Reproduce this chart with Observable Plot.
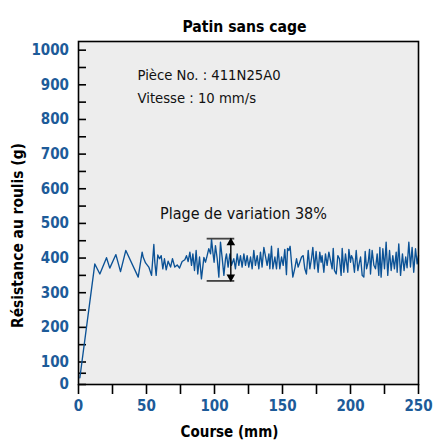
<!DOCTYPE html>
<html>
<head>
<meta charset="utf-8">
<script src="https://cdn.jsdelivr.net/npm/d3@7"></script>
<script src="https://cdn.jsdelivr.net/npm/@observablehq/plot@0.6"></script>
<style>
  body { margin: 0; background: #fff; }
  svg { display: block; }
</style>
</head>
<body>
<div id="chart"></div>
<script>
// ---- Data ----
const courseMm = [1,12,15.7,20.6,23,27.5,30.9,34.8,43.9,46.8,
  47.6,49.3,51.7,53.7,55.4,56.1,57.1,58.3,59.6,60.8,62,63.2,64.5,65.9,67.7,69.1,70.8,72.6,74.3,76.2,78.2,79.4,80.6,81.9,83.1,84.1,85.3,86.5,87.7,89,
  90.4,92.2,93.4,94.6,95.8,97.1,97.8,98.8,99.7,100.7,102,103.2,104.4,105.6,106.9,108.1,108.8,110,111.3,112.5,114.2,115.4,116.7,117.9,119.1,120.3,121.6,122.8,124,125.2,126.5,127.7,128.9,130.1,131.4,132.6,133.8,135,136.3,
  138.7,140,140.7,141.9,142.9,144.4,145.6,146.8,148,149.3,150.5,151.7,152.9,153.7,154.7,155.6,156.6,157.6,159.1,160.3,161.5,162.7,164,165.2,166.4,167.6,168.9,170.1,171.3,172.3,173.5,174.7,176.2,177.4,178.4,179.1,180.4,181.6,182.8,184.1,
  186.5,187.3,188.2,189.5,190.7,191.9,193.1,193.9,195.1,196.3,197.1,198,198.8,200,200.7,201.7,202.9,204.2,205.4,206.6,207.4,208.6,209.8,210.8,211.8,213,214,214.7,215.9,217.2,218.4,219.6,220.8,221.6,222.5,223.8,225,226.2,227.4,228.7,229.9,231.1,232.3,233.6,234.3,235.5,236.8,
  238.2,239.4,240.6,241.6,242.9,244.1,245.3,246.5,247.8,249,250];
const resistanceG = [30,383,354,401,371,410,361,422,345,417,
  402,386,374,350,439,388,350,409,398,407,369,398,366,391,374,398,374,380,371,390,395,407,390,417,379,412,364,422,354,403,
  340,402,388,407,427,412,455,417,388,436,398,345,446,402,350,398,412,374,412,379,398,369,412,379,407,374,412,379,407,374,403,369,422,379,407,369,417,374,431,
  379,412,369,434,369,403,369,428,369,403,379,425,352,428,422,434,388,345,371,398,374,388,403,407,369,354,422,369,398,431,369,419,359,417,388,407,359,412,379,417,
  369,428,364,354,407,398,350,428,359,412,388,359,425,388,407,398,359,422,364,388,403,350,345,419,369,388,425,354,422,379,369,412,350,431,345,427,369,446,350,422,364,407,369,417,359,441,350,
  412,364,403,372,446,374,431,359,427,383,407];

const xTicks = [0,25,50,75,100,125,150,175,200,225,250];
const xTickLabels = [0,50,100,150,200,250];
const yTicks = [0,50,100,150,200,250,300,350,400,450,500,550,600,650,700,750,800,850,900,950,1000];
const yTickLabels = [0,100,200,300,400,500,600,700,800,900,1000];

const titleText = "Patin sans cage";
const xLabel = "Course (mm)";
const yLabel = "Résistance au roulis (g)";
const infoLines = ["Pièce No. : 411N25A0", "Vitesse : 10 mm/s"];
const infoX = [43.4, 43.4];
const infoY = [927, 860];
const rangeText = "Plage de variation 38%";
const rangeTextPos = {x: 121.3, y: 528};
const rangeBand = {x1: 94.6, x2: 114.9, xArrow: 112, low: 334, high: 456};

const points = courseMm.map((x, i) => ({x, y: resistanceG[i]}));

const FONT = "'Liberation Sans Narrow', 'DejaVu Sans Condensed', 'Roboto', sans-serif";
const BLUE = "#1d5b99";
const LINE = "#0b5296";

const chart = Plot.plot({
  width: 433,
  height: 446,
  marginLeft: 78,
  marginRight: 15,
  marginTop: 41,
  marginBottom: 62,
  style: {fontFamily: FONT, background: "#fff", overflow: "visible"},
  x: {domain: [0, 250]},
  y: {type: "linear", domain: [0, 100, 1025], range: [384, 361.5, 41]},
  marks: [
    Plot.frame({fill: "#ededed", stroke: null}),
    // Y tick marks (inside)
    Plot.axisY({ticks: yTicks, tickSize: 8, dx: 8, text: null, stroke: "#000", strokeWidth: 1.6, label: null}),
    // Y labels
    Plot.axisY({ticks: yTickLabels, tickSize: 0, tickPadding: 9.5, tickFormat: d => String(d), color: BLUE, fontSize: 15, fontWeight: "bold", label: null}),
    // X ticks (outside)
    Plot.axisX({ticks: xTicks, tickSize: 10, text: null, stroke: "#000", strokeWidth: 1.6, label: null}),
    // X labels
    Plot.axisX({ticks: xTickLabels, tickSize: 0, tickPadding: 16, tickFormat: d => String(d), color: BLUE, fontSize: 15, fontWeight: "bold", label: null}),
    // data line
    Plot.line(points, {x: "x", y: "y", stroke: LINE, strokeWidth: 1.35}),
    // range annotation
    Plot.ruleY([rangeBand.high, rangeBand.low], {x1: rangeBand.x1, x2: rangeBand.x2, stroke: "#444", strokeWidth: 1.8}),
    Plot.ruleX([rangeBand.xArrow], {y1: rangeBand.low, y2: rangeBand.high, stroke: "#000", strokeWidth: 1.4}),
    Plot.dot([rangeBand.high], {x: rangeBand.xArrow, y: d => d, symbol: "triangle", r: 3.2, fill: "#000", stroke: null, dy: 4}),
    Plot.dot([rangeBand.low], {x: rangeBand.xArrow, y: d => d, symbol: "triangle", r: 3.2, fill: "#000", stroke: null, dy: -4, rotate: 180}),
    Plot.text([rangeText], {x: rangeTextPos.x, y: rangeTextPos.y, text: d => d, fontSize: 16, fill: "#111"}),
    // info text
    Plot.text(infoLines, {x: (d, i) => infoX[i], y: (d, i) => infoY[i], text: d => d, textAnchor: "start", fontSize: 14.7, fill: "#111"}),
    // frame border
    Plot.frame({stroke: "#000", strokeWidth: 1.6}),
    // titles
    Plot.text([titleText], {frameAnchor: "top", textAnchor: "middle", dy: -21, dx: -4, text: d => d, fontSize: 15.6, fontWeight: "bold", fill: "#000"}),
    Plot.text([xLabel], {frameAnchor: "bottom", textAnchor: "middle", dy: 52, dx: -19, text: d => d, fontSize: 15, fontWeight: "bold", fill: "#000"}),
    Plot.text([yLabel], {frameAnchor: "left", textAnchor: "middle", dx: -60, dy: 22.5, rotate: -90, text: d => d, fontSize: 15.4, fontWeight: "bold", fill: "#000"})
  ]
});
document.getElementById("chart").appendChild(chart);
</script>
</body>
</html>
